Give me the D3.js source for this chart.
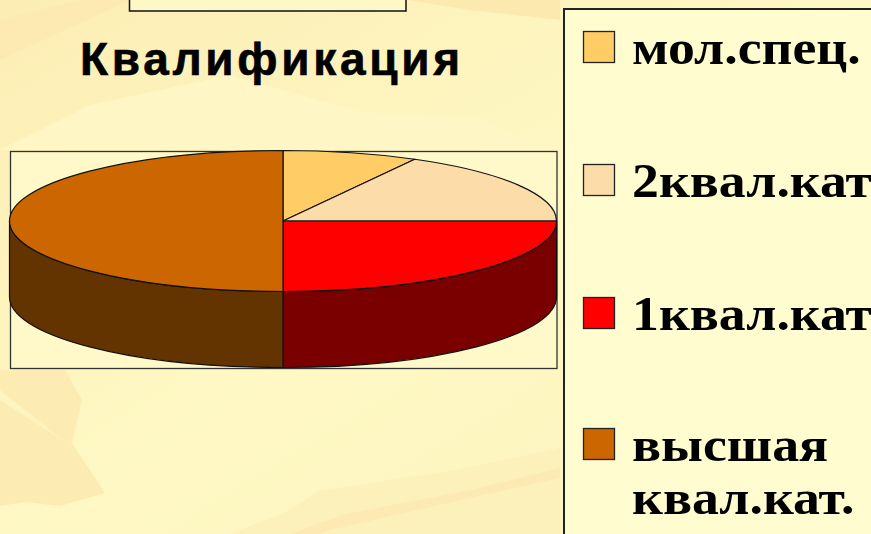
<!DOCTYPE html>
<html><head><meta charset="utf-8">
<script src="https://cdn.jsdelivr.net/npm/d3@7"></script>
<style>html,body{margin:0;padding:0;overflow:hidden;background:#FDF7C3}</style>
</head><body>
<svg id="c" width="871" height="534"></svg>
<script>
const categories = ["мол.спец.", "2квал.кат", "1квал.кат", "высшая квал.кат."];
const values = [8, 17, 25, 50];
const topColors = ["#FFCC66", "#FCDCA8", "#FF0000", "#CC6600"];
const sideColors = ["#806633", "#7E6E54", "#7A0000", "#633300"];
const title = "Квалификация";

const svg = d3.select("#c");

// background
const defs = svg.append("defs");
const g1 = defs.append("linearGradient").attr("id","bg").attr("x1","0").attr("y1","0").attr("x2","1").attr("y2","1");
g1.append("stop").attr("offset","0").attr("stop-color","#FCEDB4");
g1.append("stop").attr("offset","0.5").attr("stop-color","#FEF8C4");
g1.append("stop").attr("offset","1").attr("stop-color","#FDF3BE");
svg.append("rect").attr("width",871).attr("height",534).attr("fill","url(#bg)");
const deco = [
  {p:[[0,150],[90,105],[230,75],[360,112],[480,118],[520,140],[560,150],[0,150]], c:"#FEF6C4"},
  {p:[[0,370],[65,370],[82,400],[72,443],[105,493],[60,506],[25,502],[0,506]], c:"#FCECB4"},
  {p:[[0,390],[60,438],[85,455],[70,445],[0,400]], c:"#FDF4C0"},
  {p:[[230,534],[290,510],[318,491],[455,470],[560,448],[560,534]], c:"#FCF1BA"},
  {p:[[290,534],[345,514],[470,490],[560,468],[560,478],[470,498],[330,530],[320,534]], c:"#FDE9B4"},
  {p:[[0,20],[80,0],[130,0],[0,60]], c:"#FCEAB2"},
  {p:[[408,0],[560,0],[560,20],[470,10]], c:"#FCE9B0"}
];
svg.selectAll("polygon.deco").data(deco).join("polygon").attr("class","deco")
  .attr("points", d => d.p.map(q => q.join(",")).join(" ")).attr("fill", d => d.c);

// top box (partially visible)
svg.append("rect").attr("x",129.5).attr("y",-10).attr("width",276.5).attr("height",21)
  .attr("fill","#FEF7C6").attr("stroke","#111").attr("stroke-width",1.5);

// title, letter-spaced to the reference width
const tWidth = 380, tX = 80;
const tt = svg.append("text").text(title).attr("x",tX).attr("y",75)
  .attr("font-family","'Liberation Sans', Arial, sans-serif").attr("font-weight","bold")
  .attr("font-size",46).attr("fill","#000").attr("stroke","#000").attr("stroke-width",0.6);
const nat = tt.node().getComputedTextLength();
tt.attr("letter-spacing", (tWidth - nat) / (title.length - 1));

// plot area
svg.append("rect").attr("x",10.5).attr("y",151.5).attr("width",546.5).attr("height",217)
  .attr("fill","#FFF8C8").attr("stroke","#333").attr("stroke-width",1.3);

// 3D pie
const cx = 283, cy = 221, rx = 273.5, ry = 70.5, depth = 76;
const pie = d3.pie().sort(null).startAngle(0).endAngle(2*Math.PI);
const arcs = pie(values).map((a,i) => ({...a, i}));
const pt = (a, dy=0) => [cx + rx*Math.sin(a), cy - ry*Math.cos(a) + dy];

const sideG = svg.append("g");
arcs.forEach(a => {
  const s = Math.max(a.startAngle, Math.PI/2), e = Math.min(a.endAngle, 3*Math.PI/2);
  if (e <= s) return;
  const p0 = pt(s), p1 = pt(e), p1b = pt(e, depth), p0b = pt(s, depth);
  const large = (e - s) > Math.PI ? 1 : 0;
  const path = `M${p0[0]},${p0[1]} A${rx},${ry} 0 ${large} 1 ${p1[0]},${p1[1]} L${p1b[0]},${p1b[1]} A${rx},${ry} 0 ${large} 0 ${p0b[0]},${p0b[1]} Z`;
  sideG.append("path").attr("d", path).attr("fill", sideColors[a.i])
    .attr("stroke","#111").attr("stroke-width",1.2).attr("stroke-linejoin","round");
});
const topG = svg.append("g");
arcs.forEach(a => {
  const p0 = pt(a.startAngle), p1 = pt(a.endAngle);
  const large = (a.endAngle - a.startAngle) > Math.PI ? 1 : 0;
  const path = `M${cx},${cy} L${p0[0]},${p0[1]} A${rx},${ry} 0 ${large} 1 ${p1[0]},${p1[1]} Z`;
  topG.append("path").attr("d", path).attr("fill", topColors[a.i])
    .attr("stroke","#111").attr("stroke-width",1.2).attr("stroke-linejoin","round");
});

// legend
svg.append("rect").attr("x",564).attr("y",9).attr("width",330).attr("height",540)
  .attr("fill","#FFFCCF").attr("stroke","#222").attr("stroke-width",2);
const legY = [31, 164, 297, 428];
const lScale = 1.12, lX = 632;
const lg = svg.append("g");
categories.forEach((c,i) => {
  lg.append("rect").attr("x",583.5).attr("y",legY[i]+0.5).attr("width",31).attr("height",31)
    .attr("fill", topColors[i]).attr("stroke","#222").attr("stroke-width",1.3);
  const words = i === 3 ? c.split(" ") : [c];
  const t = lg.append("text").attr("y",legY[i]+33)
    .attr("transform", `translate(${lX},0) scale(${lScale},1)`)
    .attr("font-family","'Liberation Serif', 'Times New Roman', serif").attr("font-weight","bold")
    .attr("font-size",48).attr("fill","#000");
  words.forEach((w,k) => t.append("tspan").attr("x",0).attr("dy", k ? 53 : 0).text(w));
});
</script>
</body></html>
